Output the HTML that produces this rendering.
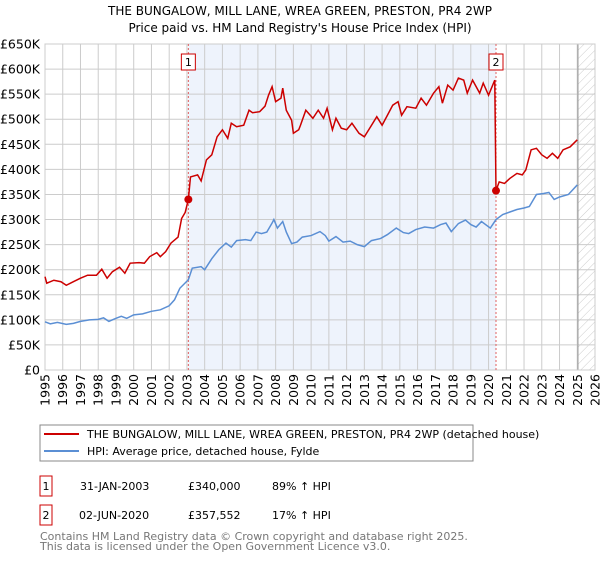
<!DOCTYPE html>
<html><head><meta charset="utf-8"><style>
body{margin:0;background:#fff;font-family:"DejaVu Sans","Liberation Sans",sans-serif;}
svg text{font-family:"DejaVu Sans","Liberation Sans",sans-serif;}
</style></head><body>
<svg id="chart" width="600" height="560" xmlns="http://www.w3.org/2000/svg">
<text x="300" y="15" text-anchor="middle" font-size="12">THE BUNGALOW, MILL LANE, WREA GREEN, PRESTON, PR4 2WP</text>
<text x="300" y="32" text-anchor="middle" font-size="12">Price paid vs. HM Land Registry's House Price Index (HPI)</text>
<defs><pattern id="hatch" width="6" height="6" patternUnits="userSpaceOnUse" patternTransform="rotate(45)"><line x1="0" y1="0" x2="0" y2="6" stroke="#ccc" stroke-width="1"/></pattern></defs>
<g id="plot"></g>
<g>
<rect x="40" y="425" width="433" height="36" fill="#fff" stroke="#888"/>
<line x1="44" y1="434" x2="79" y2="434" stroke="#cc0000" stroke-width="2"/>
<text x="87" y="438" font-size="11">THE BUNGALOW, MILL LANE, WREA GREEN, PRESTON, PR4 2WP (detached house)</text>
<line x1="44" y1="451" x2="79" y2="451" stroke="#5b8fd4" stroke-width="2"/>
<text x="87" y="455" font-size="11">HPI: Average price, detached house, Fylde</text>
</g>
<g font-size="11">
<rect x="40" y="476" width="12" height="20" fill="#fff" stroke="#cc0000"/><text x="46" y="490" text-anchor="middle">1</text>
<text x="80" y="490">31-JAN-2003</text><text x="188" y="490">£340,000</text><text x="272" y="490">89% ↑ HPI</text>
<rect x="40" y="505" width="12" height="20" fill="#fff" stroke="#cc0000"/><text x="46" y="519" text-anchor="middle">2</text>
<text x="79" y="519">02-JUN-2020</text><text x="188" y="519">£357,552</text><text x="272" y="519">17% ↑ HPI</text>
</g>
<g font-size="11" fill="#777">
<text x="40" y="540">Contains HM Land Registry data © Crown copyright and database right 2025.</text>
<text x="40" y="550">This data is licensed under the Open Government Licence v3.0.</text>
</g>
</svg>
<script>
const hpiYears=[1995.0,1995.3,1995.7,1996.2,1996.6,1997.0,1997.5,1998.0,1998.3,1998.6,1999.0,1999.3,1999.6,2000.0,2000.5,2001.0,2001.5,2002.0,2002.3,2002.6,2003.08,2003.3,2003.8,2004.0,2004.4,2004.8,2005.2,2005.5,2005.8,2006.3,2006.6,2006.9,2007.2,2007.5,2007.8,2007.9,2008.1,2008.4,2008.6,2008.9,2009.2,2009.5,2010.0,2010.5,2010.8,2011.0,2011.4,2011.8,2012.2,2012.6,2013.0,2013.4,2013.9,2014.3,2014.8,2015.2,2015.5,2015.9,2016.4,2016.9,2017.3,2017.6,2017.9,2018.3,2018.7,2019.0,2019.3,2019.6,2020.1,2020.42,2020.8,2021.2,2021.6,2022.0,2022.3,2022.7,2023.1,2023.4,2023.7,2024.0,2024.5,2025.0];
const hpiValues=[96,92,95,91,93,97,100,101,104,97,103,107,103,110,112,117,120,128,140,163,180,203,206,200,222,240,253,245,258,260,258,275,272,275,293,300,283,296,275,252,255,265,268,276,268,257,266,255,257,250,246,258,262,270,283,274,272,280,285,283,290,293,276,292,299,290,285,296,283,300,310,315,320,323,326,350,352,354,340,345,350,369];
const priceYears=[1995.0,1995.1,1995.5,1995.9,1996.2,1996.6,1997.0,1997.4,1997.9,1998.2,1998.5,1998.8,1999.2,1999.5,1999.8,2000.3,2000.6,2000.9,2001.3,2001.5,2001.8,2002.1,2002.5,2002.7,2002.9,2003.08,2003.2,2003.6,2003.8,2004.1,2004.4,2004.7,2005.0,2005.3,2005.5,2005.8,2006.2,2006.5,2006.7,2007.1,2007.4,2007.6,2007.8,2008.0,2008.3,2008.4,2008.6,2008.9,2009.0,2009.3,2009.4,2009.7,2010.1,2010.4,2010.7,2010.9,2011.2,2011.4,2011.7,2012.0,2012.3,2012.7,2013.0,2013.3,2013.7,2014.0,2014.3,2014.6,2014.9,2015.1,2015.4,2015.9,2016.2,2016.5,2016.9,2017.2,2017.4,2017.7,2018.0,2018.3,2018.6,2018.8,2019.1,2019.5,2019.7,2020.0,2020.35,2020.42,2020.6,2020.9,2021.2,2021.6,2021.9,2022.1,2022.4,2022.7,2023.0,2023.3,2023.6,2023.9,2024.2,2024.6,2025.0];
const priceValues=[186,173,179,176,169,176,183,189,189,201,183,196,205,193,213,214,213,226,234,226,236,253,265,302,314,340,385,389,377,419,429,465,479,462,492,485,488,518,513,515,526,548,565,535,542,562,518,498,472,479,488,518,502,518,502,522,479,502,482,479,492,472,465,482,505,488,508,528,535,508,525,522,542,528,552,565,532,568,558,582,578,552,578,552,572,548,578,357.552,375,372,382,392,389,399,439,442,429,422,432,422,439,445,459];
const saleYears=[2003.08,2020.42];
const saleValues=[340,357.552];
const saleLabels=["1","2"];
const yTicks=[0,50,100,150,200,250,300,350,400,450,500,550,600,650];
const xTicks=[1995,1996,1997,1998,1999,2000,2001,2002,2003,2004,2005,2006,2007,2008,2009,2010,2011,2012,2013,2014,2015,2016,2017,2018,2019,2020,2021,2022,2023,2024,2025,2026];
const L=45,R=595,T=44,B=370;
const xS=y=>L+(y-1995)/(2026-1995)*(R-L);
const yS=v=>B-v/650*(B-T);
const NS="http://www.w3.org/2000/svg";
const g=document.getElementById('plot');
function mk(tag,attrs){const e=document.createElementNS(NS,tag);for(const k in attrs)e.setAttribute(k,attrs[k]);g.appendChild(e);return e;}
let e=mk('rect',{x:L,y:T,width:R-L,height:B-T,fill:'#fff'});


e=mk('rect',{x:xS(saleYears[0]),y:T,width:xS(saleYears[1])-xS(saleYears[0]),height:B-T,fill:'#eef3fc'});


e=mk('rect',{x:xS(2025.04),y:T,width:R-xS(2025.04),height:B-T,fill:'url(#hatch)'});


yTicks.forEach(v=>{
 e=mk('line',{x1:L,x2:R,y1:yS(v),y2:yS(v),stroke:'#ccc','stroke-width':1});
 
 
 e=mk('text',{x:L-5,y:yS(v)+4.5,'text-anchor':'end','font-size':12.5});
 e.textContent=v===0?'£0':'£'+v+'K';
 
 
});
xTicks.forEach(y=>{
 e=mk('line',{x1:xS(y),x2:xS(y),y1:T,y2:B,stroke:'#ccc','stroke-width':1});
 
 
 e=mk('text',{x:0,y:0,'text-anchor':'end','font-size':12.5,transform:`translate(${xS(y)+4.5},${B+4}) rotate(-90)`});
 e.textContent=y;
 
 
});
e=mk('line',{x1:xS(2025.04),x2:xS(2025.04),y1:T,y2:B,stroke:'#999','stroke-width':1});


e=mk('rect',{x:L,y:T,width:R-L,height:B-T,fill:'none',stroke:'#ccc'});


saleYears.forEach((y,i)=>{
 e=mk('line',{x1:xS(y),x2:xS(y),y1:T,y2:B,stroke:'#e06060','stroke-width':1,'stroke-dasharray':'2,2'});
 
 
});
e=mk('polyline',{points:hpiYears.map((y,i)=>xS(y)+','+yS(hpiValues[i])).join(' '),fill:'none',stroke:'#5b8fd4','stroke-width':1.5});


e=mk('polyline',{points:priceYears.map((y,i)=>xS(y)+','+yS(priceValues[i])).join(' '),fill:'none',stroke:'#cc0000','stroke-width':1.5});


saleYears.forEach((y,i)=>{
 e=mk('circle',{cx:xS(y),cy:yS(saleValues[i]),r:4,fill:'#cc0000'});
 
 
 e=mk('rect',{x:xS(y)-7,y:54,width:14,height:16,fill:'#fff',stroke:'#cc0000'});
 
 
 e=mk('text',{x:xS(y),y:66,'text-anchor':'middle','font-size':11});
 e.textContent=saleLabels[i];
 
 
});
</script>
</body></html>
